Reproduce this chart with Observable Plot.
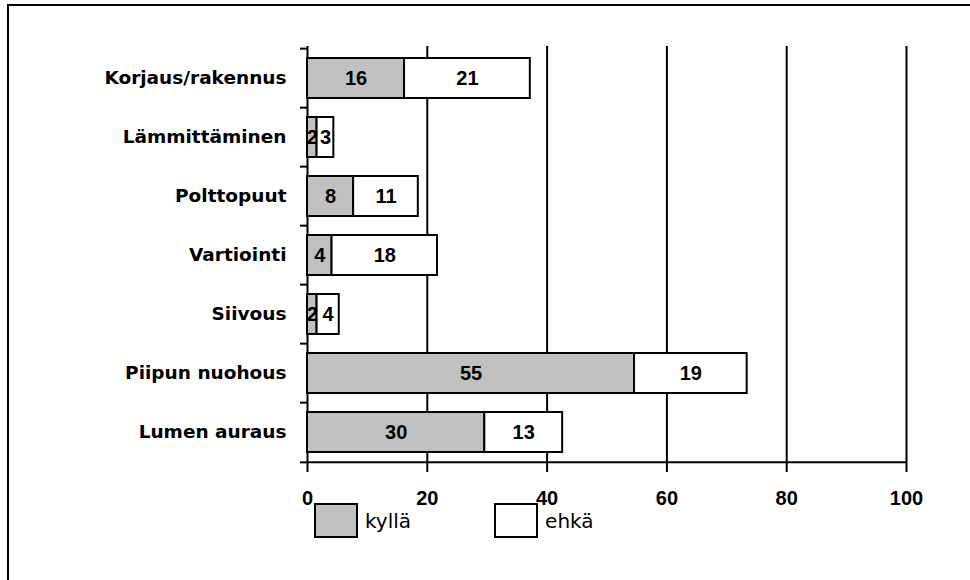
<!DOCTYPE html>
<html>
<head>
<meta charset="utf-8">
<script src="https://cdn.jsdelivr.net/npm/d3@7"></script>
<script src="https://cdn.jsdelivr.net/npm/@observablehq/plot@0.6"></script>
<style>
  html, body { margin: 0; padding: 0; background: #fff; }
  #wrap { position: relative; width: 970px; height: 580px; overflow: hidden; }
  #frame { position: absolute; left: 7px; top: 4px; width: 980px; height: 600px;
           border-left: 2px solid #000; border-top: 2px solid #000; }
  #chart { position: absolute; left: 0; top: 0; }
  #legend { position: absolute; left: 314px; top: 503px; display: flex; align-items: center;
            font-family: "DejaVu Sans", sans-serif; font-size: 20px; color: #000; }
  .sw { width: 40px; height: 31px; border: 2px solid #000; box-sizing: content-box; margin-right: 7px; }
  .item { display: flex; align-items: center; margin-right: 83px; }
</style>
</head>
<body>
<div id="wrap">
  <div id="frame"></div>
  <div id="chart"></div>
  <div id="legend"></div>
</div>
<script>
const categories = ["Korjaus/rakennus", "Lämmittäminen", "Polttopuut", "Vartiointi", "Siivous", "Piipun nuohous", "Lumen auraus"];
const seriesNames = ["kyllä", "ehkä"];
const seriesColors = ["#c0c0c0", "#ffffff"];
const kylla = [16.2, 1.6, 7.7, 4.1, 1.6, 54.6, 29.6];
const ehka  = [21.0, 2.8, 10.8, 17.6, 3.7, 18.8, 13.0];
const xTicks = [0, 20, 40, 60, 80, 100];

const data = [];
categories.forEach((c, i) => {
  data.push({cat: c, series: seriesNames[0], value: kylla[i]});
  data.push({cat: c, series: seriesNames[1], value: ehka[i]});
});

const W = 970, H = 515, mT = 46, mB = 51, mL = 307, mR = 64;
const step = (H - mT - mB) / categories.length;
const numFont = "Liberation Sans, Arial, sans-serif";
const catFont = "DejaVu Sans, sans-serif";

const chart = Plot.plot({
  width: W, height: H,
  marginTop: mT, marginBottom: mB, marginLeft: mL, marginRight: mR,
  style: {background: "transparent", color: "#000", overflow: "visible"},
  x: {domain: [0, 100], ticks: xTicks, axis: null, label: null},
  y: {domain: categories, paddingInner: 0.33, paddingOuter: 0.165, axis: null, label: null},
  color: {domain: seriesNames, range: seriesColors},
  marks: [
    Plot.ruleX(xTicks, {stroke: "#000", strokeWidth: 2}),
    Plot.barX(data, Plot.stackX({x: "value", y: "cat", fill: "series", stroke: "#000", strokeWidth: 2})),
    Plot.text(data, Plot.stackX({x: "value", y: "cat", z: "series",
      text: d => d3.format(".0f")(d.value),
      fill: "#000", fontFamily: numFont, fontWeight: "bold", fontSize: 20})),
    Plot.ruleY([categories[categories.length - 1]], {dy: step / 2, x1: 0, x2: 100, stroke: "#000", strokeWidth: 2}),
    Plot.axisX({ticks: xTicks, tickSize: 8, strokeWidth: 2, tickPadding: 18, label: null,
      fontFamily: numFont, fontWeight: "bold", fontSize: 20}),
    Plot.axisY({ticks: categories, tickSize: 7, strokeWidth: 2, dy: -step / 2, tickFormat: () => "", label: null}),
    Plot.axisY({ticks: [categories[categories.length - 1]], tickSize: 7, strokeWidth: 2, dy: step / 2, tickFormat: () => "", label: null}),
    Plot.axisY({ticks: categories, tickSize: 0, tickPadding: 21, label: null,
      fontFamily: catFont, fontWeight: "bold", fontSize: 18.5})
  ]
});
document.getElementById("chart").appendChild(chart);

const legend = document.getElementById("legend");
seriesNames.forEach((s, i) => {
  const item = document.createElement("div");
  item.className = "item";
  const sw = document.createElement("div");
  sw.className = "sw";
  sw.style.background = seriesColors[i];
  const label = document.createElement("span");
  label.textContent = s;
  item.appendChild(sw);
  item.appendChild(label);
  legend.appendChild(item);
});
</script>
</body>
</html>
